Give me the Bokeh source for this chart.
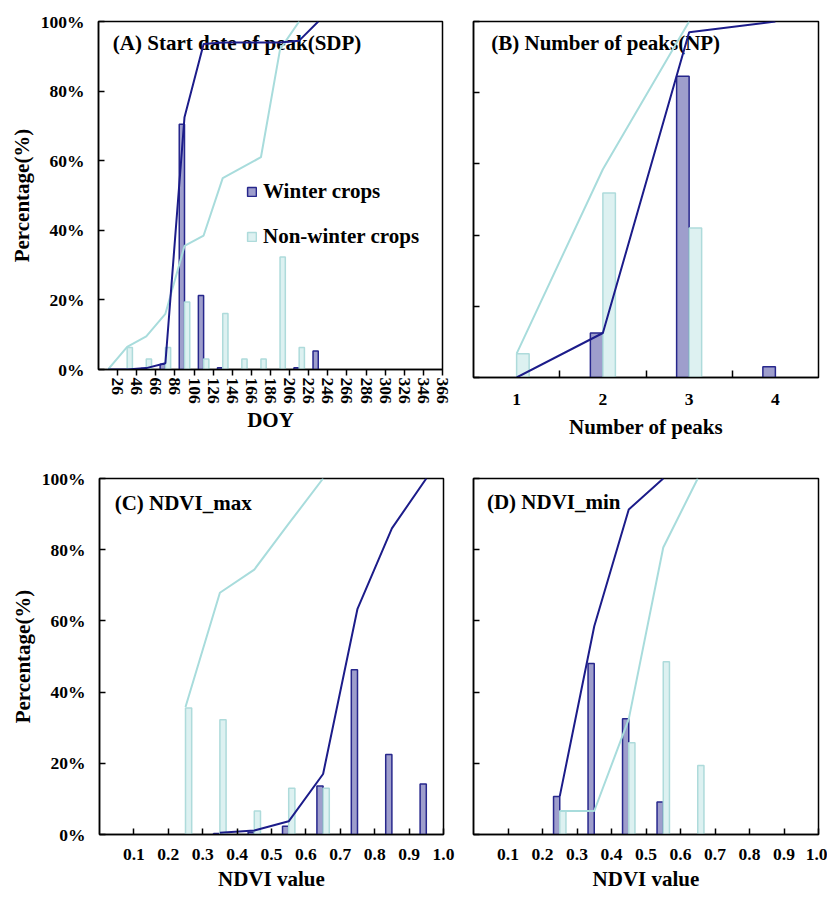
from bokeh.plotting import figure
from bokeh.layouts import column, row
from bokeh.models import (FixedTicker, PrintfTickFormatter, NumeralTickFormatter,
                          Label, Legend, LegendItem, Range1d)
from bokeh.embed import file_html
from bokeh.resources import INLINE
import numpy as np

# ---------------- data ----------------
# (A) Start date of peak (DOY bins)
sdp_bins = [36, 56, 76, 96, 116, 136, 156, 176, 196, 216, 236]
sdp_winter = [0, 0.3, 1.5, 70.5, 21.3, 0.5, 0, 0, 0, 0.5, 5.3]
sdp_nonwinter = [6.3, 3.0, 6.3, 19.4, 3.0, 16.1, 3.0, 3.0, 32.3, 6.3, 0]
sdp_cum_x_w = [16, 36, 56, 76, 96, 116, 136, 156, 176, 196, 216, 236]
sdp_cum_w = [0, 0, 0.4, 1.8, 72.5, 93.5, 94, 94, 94, 94, 94.5, 100]
sdp_cum_x_n = [16, 36, 56, 76, 96, 116, 136, 156, 176, 196, 216]
sdp_cum_n = [0, 6.5, 9.5, 16, 35.5, 38.5, 55, 58, 61, 92, 100]
doy_ticks = [26, 46, 66, 86, 106, 126, 146, 166, 186, 206, 226, 246, 266, 286, 306, 326, 346, 366]

# (B) Number of peaks
np_bins = [1, 2, 3, 4]
np_winter = [0, 12.5, 84.6, 3.0]
np_nonwinter = [6.7, 51.8, 42.0, 0]
np_cum_x_w = [1, 2, 3, 4]
np_cum_w = [0, 12.5, 97, 100]
np_cum_x_n = [1, 2, 3]
np_cum_n = [6.7, 58.5, 100]

# (C) NDVI_max
ndvi_bins = [0.25, 0.35, 0.45, 0.55, 0.65, 0.75, 0.85, 0.95]
max_winter = [0, 0.3, 0.6, 2.3, 13.6, 46.3, 22.5, 14.2]
max_nonwinter = [35.5, 32.2, 6.6, 13.0, 13.0, 0, 0, 0]
max_cum_x_w = [0.35, 0.45, 0.55, 0.65, 0.75, 0.85, 0.95]
max_cum_w = [0.5, 1.1, 3.7, 17, 63.4, 86, 100]
max_cum_x_n = [0.25, 0.35, 0.45, 0.55, 0.65]
max_cum_n = [35.8, 67.9, 74.4, 87.3, 100]

# (D) NDVI_min
min_winter = [10.7, 48.0, 32.5, 9.1, 0, 0, 0, 0]
min_nonwinter = [6.6, 0, 25.8, 48.5, 19.4, 0, 0, 0]
min_cum_x_w = [0.25, 0.35, 0.45, 0.55]
min_cum_w = [10.7, 58.5, 91.3, 100]
min_cum_x_n = [0.25, 0.35, 0.45, 0.55, 0.65]
min_cum_n = [6.6, 6.6, 32.4, 80.6, 100]

ndvi_ticks = [0.1, 0.2, 0.3, 0.4, 0.5, 0.6, 0.7, 0.8, 0.9, 1.0]
pct_ticks = [0, 20, 40, 60, 80, 100]

# ---------------- styles ----------------
W_FILL, W_LINE, W_CUM = "#9e9ecc", "#27278c", "#1c1c8a"
N_FILL, N_LINE, N_CUM = "#ddf1f1", "#aedbdb", "#a8dcdc"
FONT = "Liberation Serif"


def make_fig(width, height, xr, bl, br, bt, bb, show_ylab):
    p = figure(width=width, height=height, x_range=Range1d(*xr), y_range=Range1d(0, 100),
               output_backend="svg", toolbar_location=None,
               min_border_left=bl, min_border_right=br, min_border_top=bt, min_border_bottom=bb)
    p.grid.visible = False
    p.outline_line_color = "black"
    p.outline_line_width = 1.5
    p.outline_line_alpha = 1
    p.background_fill_color = "white"
    p.border_fill_color = "white"
    for ax in (p.xaxis[0], p.yaxis[0]):
        ax.axis_line_color = "black"
        ax.axis_line_width = 1.5
        ax.major_tick_line_color = "black"
        ax.major_tick_line_width = 1.5
        ax.minor_tick_line_color = None
        ax.major_label_text_font = FONT
        ax.major_label_text_font_style = "bold"
        ax.major_label_text_font_size = "17.5px"
        ax.major_label_text_color = "black"
        ax.axis_label_text_font = FONT
        ax.axis_label_text_font_style = "bold"
        ax.axis_label_text_font_size = "21px"
        ax.axis_label_text_color = "black"
    ya = p.yaxis[0]
    ya.ticker = FixedTicker(ticks=pct_ticks)
    ya.major_tick_in = 6
    ya.major_tick_out = 0
    if show_ylab:
        ya.formatter = PrintfTickFormatter(format="%d%%")
        ya.axis_label = "Percentage(%)"
        ya.major_label_standoff = 14
        ya.axis_label_standoff = 4
    else:
        ya.major_label_overrides = {t: "" for t in pct_ticks}
        ya.major_label_standoff = 0
    return p


def add_bars(p, bins, wvals, nvals, width):
    bins = np.array(bins, dtype=float)
    wv = np.array(wvals, dtype=float)
    nv = np.array(nvals, dtype=float)
    mw = wv > 0
    mn = nv > 0
    rw = p.vbar(x=bins[mw] - width / 2, top=wv[mw], bottom=0, width=width,
                fill_color=W_FILL, line_color=W_LINE, line_width=1.5)
    rn = p.vbar(x=bins[mn] + width / 2, top=nv[mn], bottom=0, width=width,
                fill_color=N_FILL, line_color=N_LINE, line_width=1.5)
    return rw, rn


def add_lines(p, xw, yw, xn, yn):
    p.line(xn, yn, line_color=N_CUM, line_width=2)
    p.line(xw, yw, line_color=W_CUM, line_width=2)


def add_title(p, text, x, y):
    p.add_layout(Label(x=x, y=y, text=text, text_font=FONT, text_font_style="bold",
                       text_font_size="21px", text_baseline="middle", text_color="black",
                       level="underlay"))


# ---------- (A) ----------
pA = make_fig(455, 460, (6, 366), 98, 13, 21, 91, True)
rw, rn = add_bars(pA, sdp_bins, sdp_winter, sdp_nonwinter, 5.5)
add_lines(pA, sdp_cum_x_w, sdp_cum_w, sdp_cum_x_n, sdp_cum_n)
xa = pA.xaxis[0]
xa.ticker = FixedTicker(ticks=doy_ticks)
xa.major_label_orientation = "vertical"
xa.major_tick_in = 0
xa.major_tick_out = 6
xa.major_label_standoff = 2
xa.axis_label = "DOY"
xa.axis_label_standoff = 1
add_title(pA, "(A) Start date of peak(SDP)", 21, 93.7)
leg = Legend(items=[LegendItem(label="Winter crops", renderers=[rw]),
                    LegendItem(label="Non-winter crops", renderers=[rn])],
             location=(148, 120), orientation="vertical",
             label_text_font=FONT, label_text_font_style="bold", label_text_font_size="21px",
             label_text_color="black", glyph_width=11, glyph_height=11, label_height=20,
             spacing=20, padding=0, margin=0, label_standoff=6,
             border_line_color=None, background_fill_alpha=0)
pA.add_layout(leg)

# ---------- (B) ----------
pB = make_fig(372, 460, (0.5, 4.5), 18, 9, 21, 83, False)
add_bars(pB, np_bins, np_winter, np_nonwinter, 0.145)
add_lines(pB, np_cum_x_w, np_cum_w, np_cum_x_n, np_cum_n)
xb = pB.xaxis[0]
xb.ticker = FixedTicker(ticks=np_bins, minor_ticks=[1.5, 2.5, 3.5])
xb.major_tick_line_color = None
xb.minor_tick_line_color = "black"
xb.minor_tick_line_width = 1.5
xb.minor_tick_in = 7
xb.minor_tick_out = 0
xb.major_label_standoff = 10
xb.axis_label = "Number of peaks"
xb.axis_label_standoff = 7
add_title(pB, "(B) Number of peaks(NP)", 0.706, 93.9)

# ---------- (C) ----------
pC = make_fig(455, 436, (0, 1.0), 99, 12, 18, 62, True)
add_bars(pC, ndvi_bins, max_winter, max_nonwinter, 0.018)
add_lines(pC, max_cum_x_w, max_cum_w, max_cum_x_n, max_cum_n)
xc = pC.xaxis[0]
xc.ticker = FixedTicker(ticks=ndvi_ticks)
xc.formatter = NumeralTickFormatter(format="0.0")
xc.major_tick_in = 6
xc.major_tick_out = 0
xc.major_label_standoff = 14
xc.axis_label = "NDVI value"
xc.axis_label_standoff = 4
add_title(pC, "(C) NDVI_max", 0.044, 93.0)

# ---------- (D) ----------
pD = make_fig(372, 436, (0, 1.0), 18, 9, 18, 62, False)
add_bars(pD, ndvi_bins, min_winter, min_nonwinter, 0.018)
add_lines(pD, min_cum_x_w, min_cum_w, min_cum_x_n, min_cum_n)
xd = pD.xaxis[0]
xd.ticker = FixedTicker(ticks=ndvi_ticks)
xd.formatter = NumeralTickFormatter(format="0.0")
xd.major_tick_in = 6
xd.major_tick_out = 0
xd.major_label_standoff = 14
xd.axis_label = "NDVI value"
xd.axis_label_standoff = 4
add_title(pD, "(D) NDVI_min", 0.039, 93.4)

layout = column(row(pA, column(pB)), row(pC, pD))
open("out.html", "w").write(file_html(layout, INLINE))
